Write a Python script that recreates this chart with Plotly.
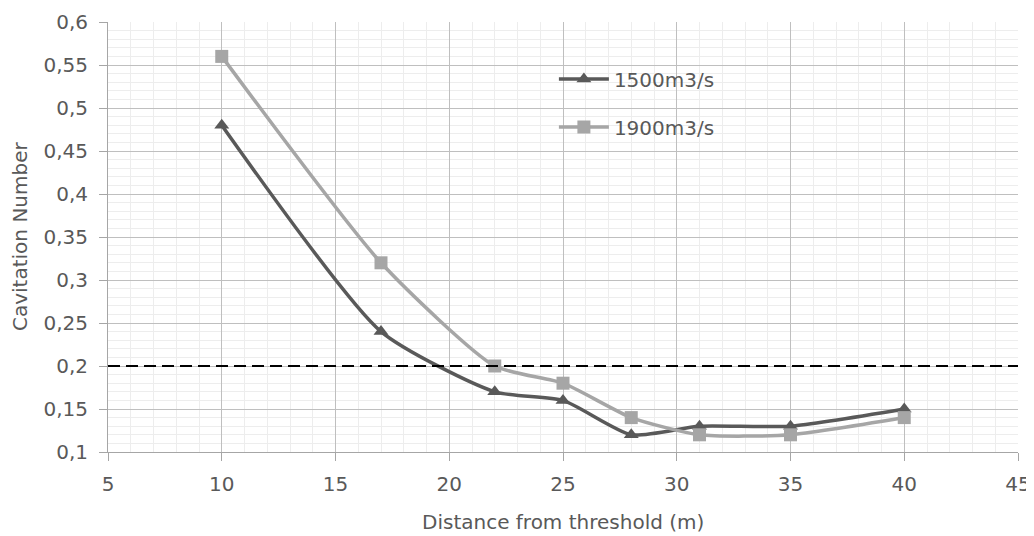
import plotly.graph_objects as go

distance = [10, 17, 22, 25, 28, 31, 35, 40]
cav_1500 = [0.48, 0.24, 0.17, 0.16, 0.12, 0.13, 0.13, 0.15]
cav_1900 = [0.56, 0.32, 0.20, 0.18, 0.14, 0.12, 0.12, 0.14]
threshold = 0.2
x_range = [5, 45]
y_range = [0.1, 0.6]
x_title = "Distance from threshold (m)"
y_title = "Cavitation Number"

fig = go.Figure()
fig.add_trace(go.Scatter(
    x=distance, y=cav_1500, name="1500m3/s", mode="lines+markers",
    line=dict(color="#595959", width=3.5, shape="spline", smoothing=0.6),
    marker=dict(symbol="triangle-up", size=13, color="#595959"),
    legendgroup="a"))
fig.add_trace(go.Scatter(
    x=distance, y=cav_1900, name="1900m3/s", mode="lines+markers",
    line=dict(color="#A6A6A6", width=3.5, shape="spline", smoothing=0.6),
    marker=dict(symbol="square", size=13, color="#A6A6A6"),
    legendgroup="b"))
fig.add_trace(go.Scatter(
    x=x_range, y=[threshold, threshold], mode="lines", showlegend=False,
    line=dict(color="#000000", width=2, dash="12px,6px"), hoverinfo="skip"))

font_family = "DejaVu Sans, sans-serif"
txt = "#595959"
fig.update_layout(
    width=1026, height=528,
    margin=dict(l=100, r=16, t=14, b=84, autoexpand=False),
    paper_bgcolor="white", plot_bgcolor="white",
    separators=", ",
    font=dict(family=font_family, size=20, color=txt),
    legend=dict(x=0.490, y=0.913, xanchor="left", yanchor="top",
                bgcolor="rgba(0,0,0,0)", tracegroupgap=19, itemwidth=50,
                font=dict(size=20, color=txt), traceorder="grouped"),
    annotations=[
        dict(text=x_title, xref="paper", yref="paper", x=0.5, y=-0.163,
             xanchor="center", yanchor="middle", showarrow=False,
             font=dict(size=20, color=txt)),
        dict(text=y_title, xref="paper", yref="paper", x=-0.0967, y=0.5,
             xanchor="center", yanchor="middle", showarrow=False, textangle=-90,
             font=dict(size=20, color=txt)),
    ],
)
fig.update_xaxes(
    range=x_range, dtick=5, tick0=5, showgrid=True, gridcolor="#BFBFBF", gridwidth=1,
    minor=dict(dtick=1, showgrid=True, gridcolor="#EDEDED", gridwidth=1),
    showline=True, linecolor="#A6A6A6", linewidth=1,
    ticks="outside", ticklen=8, tickcolor="#A6A6A6", automargin=False,
    ticklabelstandoff=6,
    zeroline=False, tickfont=dict(size=20, color=txt),
)
fig.update_yaxes(
    range=y_range, dtick=0.05, tick0=0.1, showgrid=True, gridcolor="#BFBFBF", gridwidth=1,
    minor=dict(dtick=0.01, showgrid=True, gridcolor="#EDEDED", gridwidth=1),
    showline=True, linecolor="#A6A6A6", linewidth=1,
    ticks="outside", ticklen=8, tickcolor="#A6A6A6", automargin=False,
    ticklabelstandoff=7,
    zeroline=False, tickfont=dict(size=20, color=txt),
)
fig.write_html("out.html")
